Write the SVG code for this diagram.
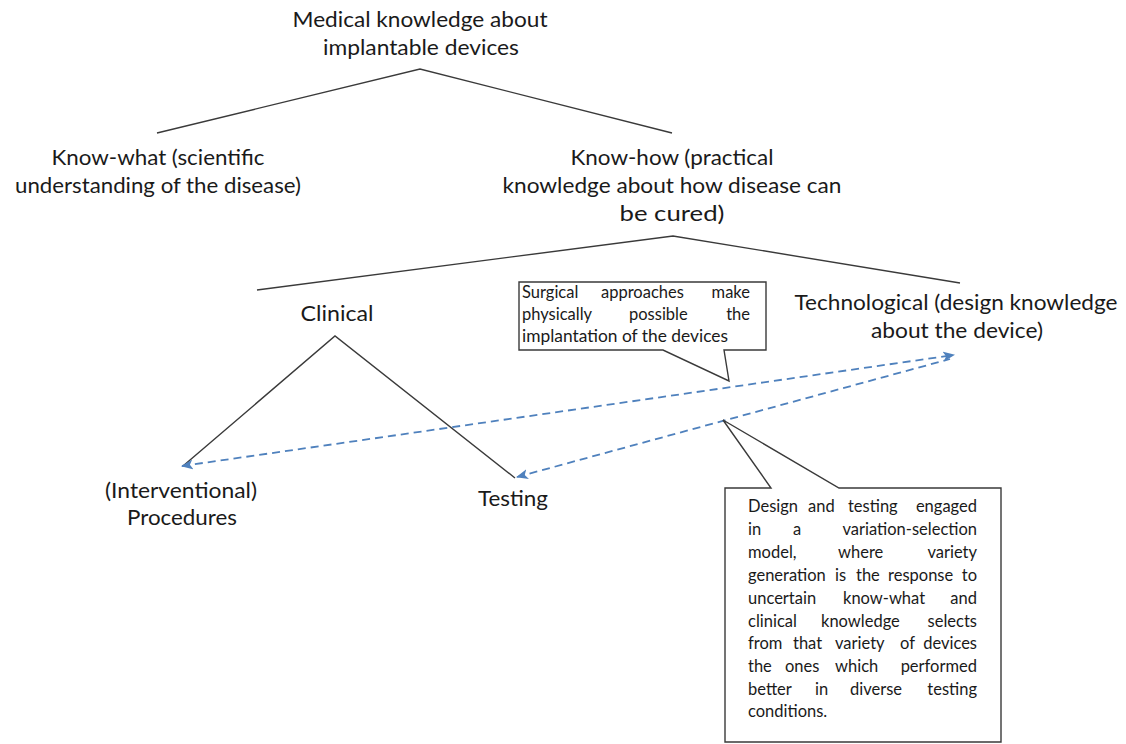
<svg xmlns="http://www.w3.org/2000/svg" width="1126" height="744" viewBox="0 0 1126 744">
<defs>
<style>
.lbl{font-family:Lato,"Open Sans","Liberation Sans",sans-serif;font-size:21px;fill:#1a1a1a;text-anchor:middle}
.sm{font-family:Lato,"Open Sans","Liberation Sans",sans-serif;font-size:16.5px;fill:#1a1a1a}
.tree{stroke:#3a3a3a;stroke-width:1.4;fill:none}
.dash{stroke:#4f81bd;stroke-width:1.8;fill:none;stroke-dasharray:8 5}
.call{fill:#fff;stroke:#3a3a3a;stroke-width:1.4}
</style>
<marker id="ah" viewBox="0 0 12 10" refX="11" refY="5" markerWidth="12" markerHeight="10" markerUnits="userSpaceOnUse" orient="auto-start-reverse">
<path d="M0,0 L12,5 L0,10 L3,5 z" fill="#4f81bd"/>
</marker>
</defs>
<rect width="1126" height="744" fill="#fff"/>

<g id="connectors">
<polyline class="tree" points="157,133 420,69 672,133"/>
<polyline class="tree" points="257,290 673,236 960,283"/>
<polyline class="tree" points="183,466 335,336 515,478"/>
<line class="dash" x1="182" y1="466" x2="954" y2="355" marker-start="url(#ah)" marker-end="url(#ah)"/>
<line class="dash" x1="517" y1="477" x2="950" y2="359" marker-start="url(#ah)"/>
</g>

<g id="n-root">
<text class="lbl" x="420" y="27" textLength="255" lengthAdjust="spacingAndGlyphs">Medical knowledge about</text>
<text class="lbl" x="421" y="55" textLength="196" lengthAdjust="spacingAndGlyphs">implantable devices</text>
</g>
<g id="n-knowwhat">
<text class="lbl" x="158" y="165" textLength="213" lengthAdjust="spacingAndGlyphs">Know-what (scientific</text>
<text class="lbl" x="158" y="193" textLength="286" lengthAdjust="spacingAndGlyphs">understanding of the disease)</text>
</g>
<g id="n-knowhow">
<text class="lbl" x="672" y="165" textLength="203" lengthAdjust="spacingAndGlyphs">Know-how (practical</text>
<text class="lbl" x="672" y="193" textLength="339" lengthAdjust="spacingAndGlyphs">knowledge about how disease can</text>
<text class="lbl" x="672" y="221" textLength="105" lengthAdjust="spacingAndGlyphs">be cured)</text>
</g>
<g id="n-clinical">
<text class="lbl" x="337" y="321" textLength="73" lengthAdjust="spacingAndGlyphs">Clinical</text>
</g>
<g id="n-tech">
<text class="lbl" x="956" y="310" textLength="323" lengthAdjust="spacingAndGlyphs">Technological (design knowledge</text>
<text class="lbl" x="957" y="338" textLength="172" lengthAdjust="spacingAndGlyphs">about the device)</text>
</g>
<g id="n-procedures">
<text class="lbl" x="181" y="498" textLength="152" lengthAdjust="spacingAndGlyphs">(Interventional)</text>
<text class="lbl" x="182" y="525" textLength="110" lengthAdjust="spacingAndGlyphs">Procedures</text>
</g>
<g id="n-testing">
<text class="lbl" x="513" y="506" textLength="70" lengthAdjust="spacingAndGlyphs">Testing</text>
</g>

<g id="callout-surgical">
<path class="call" d="M519,282 H766 V350 H724 L729,381 L663,350 H519 Z"/>
<text class="sm" y="298"><tspan x="522">Surgical</tspan><tspan x="601">approaches</tspan><tspan x="750" text-anchor="end">make</tspan></text>
<text class="sm" y="320"><tspan x="522">physically</tspan><tspan x="629">possible</tspan><tspan x="750" text-anchor="end">the</tspan></text>
<text class="sm" y="342" x="522" textLength="206" lengthAdjust="spacingAndGlyphs">implantation of the devices</text>
</g>

<g id="callout-design">
<path class="call" d="M725,488 H771 L723,420 L839,488 H1001 V742 H725 Z"/>
<text class="sm" y="512"><tspan x="748">Design</tspan><tspan x="808">and</tspan><tspan x="848">testing</tspan><tspan x="977" text-anchor="end">engaged</tspan></text>
<text class="sm" y="535"><tspan x="748">in</tspan><tspan x="793">a</tspan><tspan x="977" text-anchor="end">variation-selection</tspan></text>
<text class="sm" y="558"><tspan x="748">model,</tspan><tspan x="838">where</tspan><tspan x="977" text-anchor="end">variety</tspan></text>
<text class="sm" y="581"><tspan x="748">generation</tspan><tspan x="835">is</tspan><tspan x="856">the</tspan><tspan x="888">response</tspan><tspan x="977" text-anchor="end">to</tspan></text>
<text class="sm" y="604"><tspan x="748">uncertain</tspan><tspan x="843">know-what</tspan><tspan x="977" text-anchor="end">and</tspan></text>
<text class="sm" y="627"><tspan x="748">clinical</tspan><tspan x="821">knowledge</tspan><tspan x="977" text-anchor="end">selects</tspan></text>
<text class="sm" y="649"><tspan x="748">from</tspan><tspan x="793">that</tspan><tspan x="835">variety</tspan><tspan x="900">of</tspan><tspan x="977" text-anchor="end">devices</tspan></text>
<text class="sm" y="672"><tspan x="748">the</tspan><tspan x="785">ones</tspan><tspan x="835">which</tspan><tspan x="977" text-anchor="end">performed</tspan></text>
<text class="sm" y="695"><tspan x="748">better</tspan><tspan x="815">in</tspan><tspan x="850">diverse</tspan><tspan x="977" text-anchor="end">testing</tspan></text>
<text class="sm" y="717" x="748">conditions.</text>
</g>
</svg>
